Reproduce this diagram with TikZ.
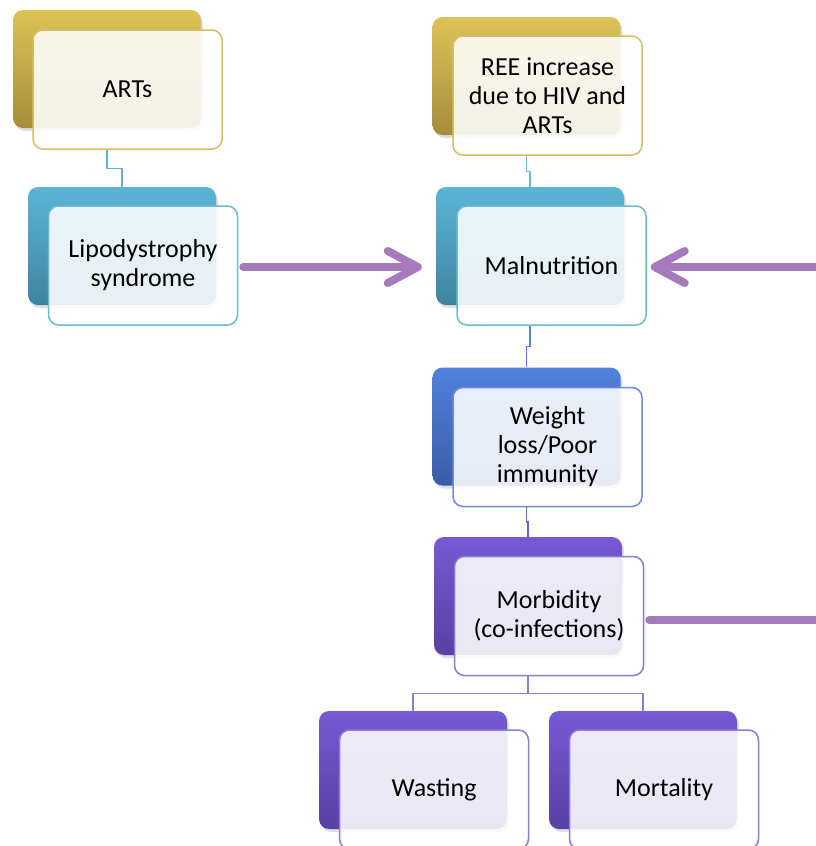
\documentclass[tikz,border=0pt]{standalone}
\usepackage{fontspec}
\setmainfont{Carlito}
\usetikzlibrary{arrows.meta,shadows,calc}
\definecolor{goldT}{HTML}{DDC257}
\definecolor{goldB}{HTML}{A68D3C}
\definecolor{goldL}{HTML}{D6BE66}
\definecolor{tealT}{HTML}{5CB5D6}
\definecolor{tealB}{HTML}{3F849F}
\definecolor{tealL}{HTML}{6DBAD2}
\definecolor{blueT}{HTML}{5282DD}
\definecolor{blueB}{HTML}{3A5CA6}
\definecolor{blueL}{HTML}{6B8DDB}
\definecolor{purT}{HTML}{7659D4}
\definecolor{purB}{HTML}{5940A2}
\definecolor{purL}{HTML}{8E7AD8}
\definecolor{arrowC}{HTML}{A57BBD}
\begin{document}
\begin{tikzpicture}[x=1pt,y=-1pt,
  backbox/.style={rectangle, rounded corners=10pt, minimum width=188pt, minimum height=118pt,
    draw=none, drop shadow={shadow xshift=2pt, shadow yshift=-3pt, opacity=0.25}},
  frontbox/.style={rectangle, rounded corners=10pt, minimum width=189pt, minimum height=119pt,
    fill=white, fill opacity=0.88, text opacity=1, line width=1.5pt, align=center,
    font=\fontsize{26}{29}\selectfont, text=black},
  gold/.style={top color=goldT, bottom color=goldB},
  teal/.style={top color=tealT, bottom color=tealB},
  blu/.style={top color=blueT, bottom color=blueB},
  pur/.style={top color=purT, bottom color=purB},
  conn/.style={line width=1.5pt},
  bigarrow/.style={draw=arrowC, line width=8pt, line cap=round, line join=round,
    -{Straight Barb[length=30pt, width=32pt, round]},
    preaction={draw=black!60, draw opacity=0.2, transform canvas={xshift=1pt, yshift=-3pt}}}
]
\useasboundingbox (0,0) rectangle (816,846);
\clip (0,0) rectangle (816,846);

% back boxes
\node[backbox, gold] (artsB) at (107,69) {};
\node[backbox, teal] (lipoB) at (122,246) {};
\node[backbox, gold] (reeB) at (526.5,76) {};
\node[backbox, teal] (malnB) at (530,246) {};
\node[backbox, blu] (wlB) at (526.5,426.5) {};
\node[backbox, pur] (morbB) at (528,596) {};
\node[backbox, pur] (wastB) at (413,770) {};
\node[backbox, pur] (mortB) at (643,770) {};

% front boxes
\node[frontbox, draw=goldL] (arts) at (127.5,89.5) {ARTs};
\node[frontbox, draw=tealL] (lipo) at (143,265.5) {Lipodystrophy\\syndrome};
\node[frontbox, draw=goldL] (ree) at (547.5,95.5) {REE increase\\due to HIV and\\ARTs};
\node[frontbox, draw=tealL] (maln) at (551.5,265.5) {Malnutrition};
\node[frontbox, draw=blueL] (wl) at (547.5,447) {Weight\\loss/Poor\\immunity};
\node[frontbox, draw=purL] (morb) at (549,616) {Morbidity\\(co-infections)};
\node[frontbox, draw=purL] (wast) at (434,789.5) {Wasting};
\node[frontbox, draw=purL] (mort) at (664,789.5) {Mortality};

% connectors
\coordinate (m1) at ($(arts.south)!0.5!(lipoB.north)$);
\coordinate (m2) at ($(ree.south)!0.5!(malnB.north)$);
\coordinate (m3) at ($(maln.south)!0.5!(wlB.north)$);
\coordinate (m4) at ($(wl.south)!0.5!(morbB.north)$);
\coordinate (m5) at ($(morb.south)!0.5!(wastB.north)$);

\draw[conn, draw=tealT] (artsB.south |- arts.south) -- (artsB.south |- m1) -| (lipoB.north);
\draw[conn, draw=tealL] (reeB.south |- ree.south) -- (reeB.south |- m2) -| (malnB.north);
\draw[conn, draw=blueT] (malnB.south |- maln.south) -- (malnB.south |- m3) -| (wlB.north);
\draw[conn, draw=purT!85!blueT] (wlB.south |- wl.south) -- (wlB.south |- m4) -| (morbB.north);
\draw[conn, draw=purL] (morbB.south |- morb.south) -- (morbB.south |- m5) -| (wastB.north);
\draw[conn, draw=purL] (morbB.south |- m5) -| (mortB.north);

% big arrows
\coordinate (loopx) at (828,0);
\draw[bigarrow] ([xshift=5pt,yshift=-1.5pt]lipo.east) -- ([xshift=-14pt,yshift=-1.5pt]lipo.east -| malnB.west);
\draw[bigarrow] ([xshift=5pt,yshift=-4pt]morb.east) -- ([yshift=-4pt]morb.east -| loopx) -- ([yshift=-1.5pt]maln.east -| loopx) -- ([xshift=4pt,yshift=-1.5pt]maln.east);
\end{tikzpicture}
\end{document}
